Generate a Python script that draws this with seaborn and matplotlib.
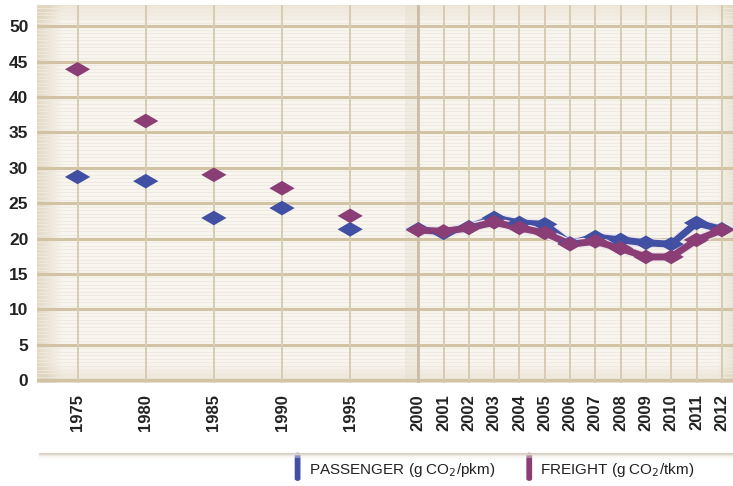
import matplotlib
matplotlib.use("Agg")
import matplotlib.pyplot as plt
import matplotlib.patheffects as pe
from matplotlib.path import Path
from matplotlib.patches import FancyBboxPatch
import seaborn as sns
import pandas as pd
import numpy as np

# data
years = [1975, 1980, 1985, 1990, 1995, 2000, 2001, 2002, 2003, 2004, 2005,
         2006, 2007, 2008, 2009, 2010, 2011, 2012]
passenger = [28.7, 28.1, 22.9, 24.3, 21.3, 21.3, 20.8, 21.6, 22.9, 22.2, 22.0,
             19.3, 20.2, 19.8, 19.4, 19.2, 22.2, 21.3]
freight = [43.9, 36.6, 29.0, 27.1, 23.2, 21.2, 21.0, 21.5, 22.3, 21.5, 20.8,
           19.2, 19.6, 18.6, 17.4, 17.4, 19.8, 21.2]
y_ticks = list(range(0, 55, 5))

labels = {"passenger": "PASSENGER (g CO$_2$/pkm)",
          "freight": "FREIGHT (g CO$_2$/tkm)"}
colors = {"passenger": "#4150a2", "freight": "#8b3e76"}

df = pd.DataFrame({"year": years, "passenger": passenger, "freight": freight})
late = df[df["year"] >= 2000]

# five-year steps before 2000 are squeezed, yearly steps after
squeeze = 0.539
def fwd(x):
    x = np.asarray(x, dtype=float)
    return np.where(x <= 2000, (x - 2000) * squeeze, x - 2000)

def inv(u):
    u = np.asarray(u, dtype=float)
    return np.where(u <= 0, u / squeeze + 2000, u + 2000)

# flat diamond marker
diamond = Path([(-1, 0), (0, 0.58), (1, 0), (0, -0.58), (-1, 0)],
               [Path.MOVETO, Path.LINETO, Path.LINETO, Path.LINETO, Path.CLOSEPOLY])

sns.set_style("white")
plt.rcParams["font.family"] = ["Liberation Sans", "DejaVu Sans"]

fig = plt.figure(figsize=(7.33, 4.86), dpi=100)
ax = fig.add_axes([0.05, 0.212, 0.952, 0.778])
ax.set_xscale("function", functions=(fwd, inv))
ax.set_xlim(1972, 2012.5)
ax.set_ylim(-0.4, 53)

# background shading
ax.set_facecolor("#f8f5ee")
w = np.linspace(0, 1, 400)
h = np.linspace(0, 1, 200)
shade_x = np.clip(1 - w / 0.035, 0, 1) * 0.9 + np.clip((w - 0.975) / 0.025, 0, 1) * 0.6
shade_y = np.clip(1 - h / 0.05, 0, 1) * 0.6 + np.clip((h - 0.95) / 0.05, 0, 1) * 0.5
shade = np.clip(shade_x[None, :] + shade_y[:, None], 0, 1)
img = np.zeros((200, 400, 4))
img[..., 0] = 0.86
img[..., 1] = 0.81
img[..., 2] = 0.71
img[..., 3] = shade * 0.8
ax.imshow(img, extent=[0, 1, 0, 1], transform=ax.transAxes, origin="lower",
          aspect="auto", zorder=0, interpolation="bilinear")

# grid
for yy in np.arange(0, 53, 0.5):
    ax.axhline(yy, color="#efeae0", lw=0.6, zorder=1)
for yy in y_ticks:
    ax.axhline(yy, color="#d3c3a5", lw=2.2, zorder=2)
for yr in years:
    ax.axvline(yr, color="#d8cbb3", lw=1.4, zorder=2)
ax.axvline(2000, color="#c9bda8", lw=2.0, zorder=2)
ax.axvspan(1999.0, 2000, color="#e2d9c9", alpha=0.35, lw=0, zorder=1)

# lines for the yearly part
for key in ["passenger", "freight"]:
    sns.lineplot(data=late, x="year", y=key, ax=ax, color=colors[key], lw=5,
                 zorder=4, legend=False,
                 path_effects=[pe.Stroke(linewidth=7, foreground="#ebe3ea"), pe.Normal()])

# diamond markers
for key in ["passenger", "freight"]:
    sns.scatterplot(data=df, x="year", y=key, ax=ax, marker=diamond, s=330,
                    color=colors[key], edgecolor="none", zorder=5, legend=False)

ax.set_xticks(years)
ax.set_xticklabels([str(y) for y in years], rotation=90, fontsize=12,
                   fontweight="bold", color="#222222")
ax.xaxis.set_minor_locator(matplotlib.ticker.NullLocator())
ax.set_yticks(y_ticks)
ax.set_yticklabels([str(y) for y in y_ticks], fontsize=12.5, fontweight="bold",
                   color="#222222")
ax.tick_params(axis="both", length=0)
ax.tick_params(axis="x", pad=8)
ax.tick_params(axis="y", pad=6)
ax.set_xlabel("")
ax.set_ylabel("")
for s in ax.spines.values():
    s.set_visible(False)

# shadow band under the tick labels
for i, (a, c) in enumerate([(0.9, "#d3ccc0"), (0.6, "#e3ded4"), (0.4, "#eeeae3")]):
    yy = 0.066 - 0.003 * i
    fig.add_artist(plt.Line2D([0.055, 1.0], [yy, yy], color=c, lw=1.6, alpha=a,
                              transform=fig.transFigure))

# legend
for key, x0 in [("passenger", 0.403), ("freight", 0.719)]:
    fig.add_artist(FancyBboxPatch((x0, 0.012), 0.006, 0.055,
                                  boxstyle="round,pad=0,rounding_size=0.003",
                                  color=colors[key], transform=fig.transFigure))
    fig.text(x0 + 0.018, 0.032, labels[key], fontsize=11, color="#222222",
             family=["Liberation Sans Narrow", "Liberation Sans", "DejaVu Sans"],
             va="center", ha="left")

fig.savefig("out.png", dpi=100)
